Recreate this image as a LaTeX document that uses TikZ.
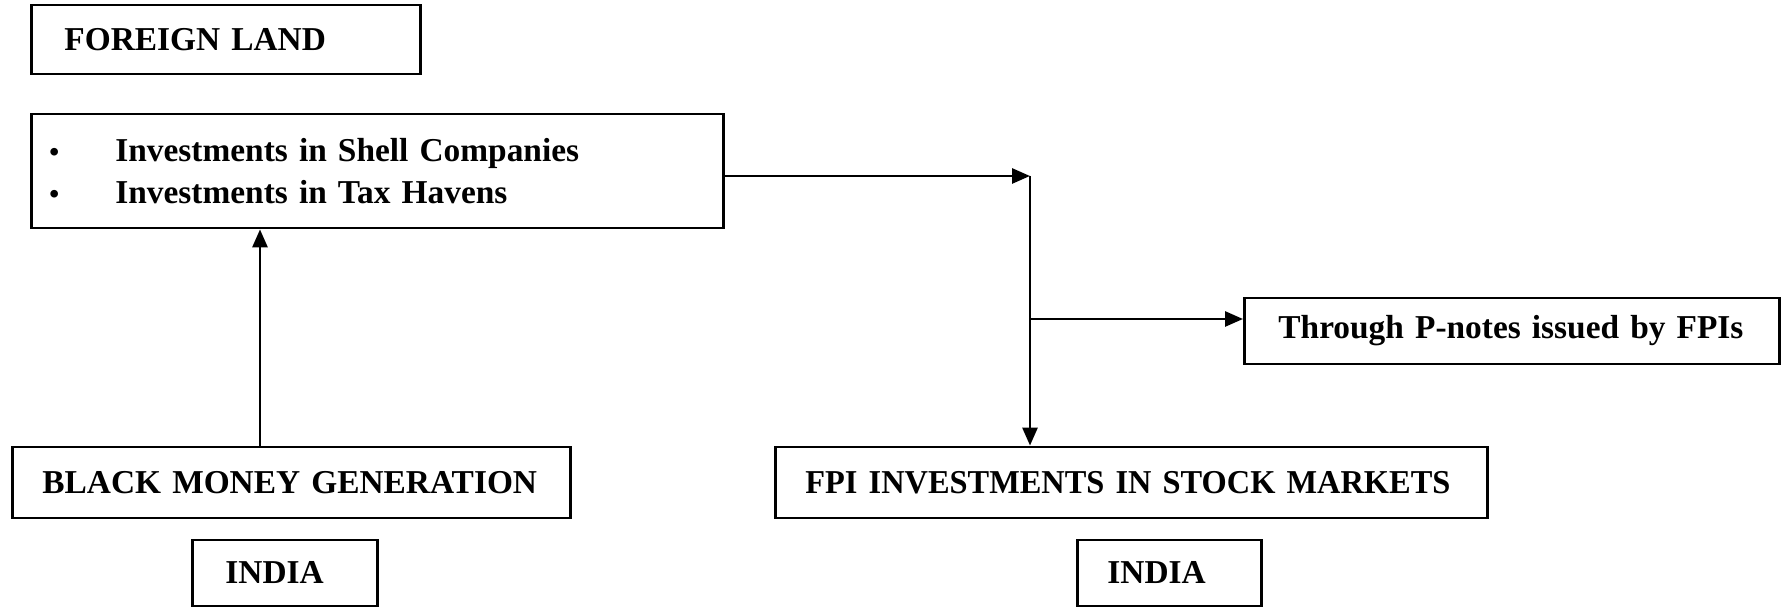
\documentclass[tikz,border=0pt]{standalone}
\usepackage{fontspec}
\setmainfont{Liberation Serif}
\usetikzlibrary{arrows.meta,positioning}
\newcommand{\itm}{\makebox[6.6mm][l]{\footnotesize\textbullet}}

\begin{document}
\begin{tikzpicture}[x=0.1mm,y=-0.1mm,>={Triangle[length=1.8mm,width=1.5mm]},
  box/.style={draw,line width=0.8pt,anchor=west,align=left,font=\bfseries\fontsize{9.5}{12}\selectfont},
  link/.style={line width=0.8pt}]

\useasboundingbox (0,0) rectangle (1785,609);

\node[box,inner xsep=3.3mm,text width=32.3mm,minimum height=6.9mm] (land)   at (30,39.5)  {FOREIGN LAND};
\node[box,inner xsep=1.8mm,text width=65.6mm,minimum height=11.4mm] (invest) at (30,171)   {\itm Investments in Shell Companies\\ \itm Investments in Tax Havens};
\node[box,inner xsep=3.4mm,text width=46.7mm,minimum height=6.6mm] (pnotes) at (1243,331)  {Through P-notes issued by FPIs};
\node[box,inner xsep=3mm,text width=49.8mm,minimum height=7.1mm]   (black)  at (11,482.5)  {BLACK MONEY GENERATION};
\node[box,inner xsep=3mm,text width=65.2mm,minimum height=7.1mm]   (fpi)    at (774,482.5) {\addfontfeature{FakeStretch=0.97}\mbox{FPI INVESTMENTS IN STOCK MARKETS}};
\node[box,inner xsep=3.3mm,text width=11.9mm,minimum height=6.6mm] (indiaA) at (191,573)   {INDIA};
\node[box,inner xsep=3mm,text width=12.4mm,minimum height=6.6mm]   (indiaB) at (1076,573)  {INDIA};

\coordinate (up)    at (260,0);
\coordinate (split) at (1030,0);
\coordinate (turn)  at (1030,176);
\coordinate (fork)  at (1030,319);

\draw[link,->] (black.north -| up) -- (invest.south -| up);
\draw[link,->] (invest.east |- turn) -- (turn);
\draw[link,->] (turn) -- (fpi.north -| split);
\draw[link,->] (fork) -- (fork -| pnotes.west);

\end{tikzpicture}
\end{document}
